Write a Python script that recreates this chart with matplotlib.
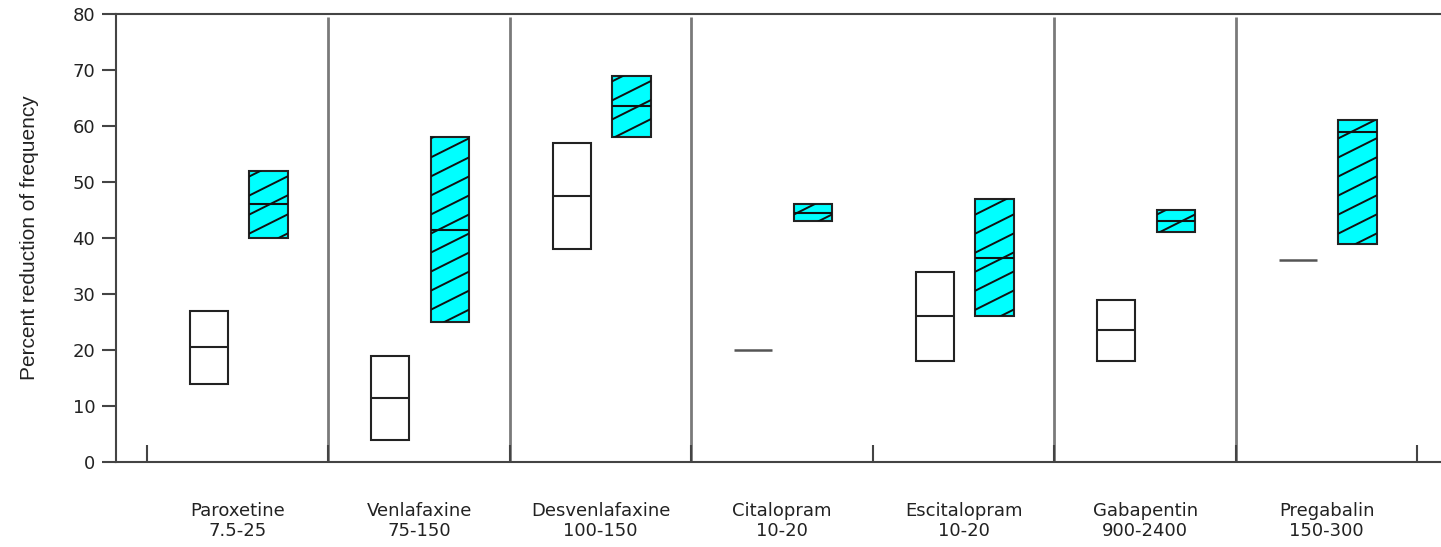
import matplotlib
matplotlib.use("Agg")
import matplotlib.pyplot as plt
import numpy as np

# drug / dose range (mg)
drugs = ["Paroxetine\n7.5-25", "Venlafaxine\n75-150", "Desvenlafaxine\n100-150",
         "Citalopram\n10-20", "Escitalopram\n10-20", "Gabapentin\n900-2400",
         "Pregabalin\n150-300"]

# open boxes (low, median, high)
white_lo = [14, 4, 38, 20, 18, 18, 36]
white_med = [20.5, 11.5, 47.5, 20, 26, 23.5, 36]
white_hi = [27, 19, 57, 20, 34, 29, 36]

# cyan hatched boxes (low, median, high)
cyan_lo = [40, 25, 58, 43, 26, 41, 39]
cyan_med = [46, 41.5, 63.5, 44.5, 36.5, 43, 59]
cyan_hi = [52, 58, 69, 46, 47, 45, 61]

separators = [1, 2, 3, 5, 6]

fig = plt.figure(figsize=(14.41, 5.47), dpi=100)
ax = fig.add_axes([0.0805, 0.1554, 0.9195, 0.819])

n = len(drugs)
idx = np.arange(n)
w = 0.21
xw = idx + 0.34
xc = idx + 0.67

# separators between drugs
ax.vlines(separators, 0, 79.5, color="#7a7a7a", lw=2, zorder=1)

# white boxes
for x, lo, md, hi in zip(xw, white_lo, white_med, white_hi):
    if hi > lo:
        ax.bar(x, hi - lo, bottom=lo, width=w, color="white",
               edgecolor="#222222", lw=1.5, zorder=2)
        ax.hlines(md, x - w / 2, x + w / 2, color="#222222", lw=1.5, zorder=3)
    else:
        ax.hlines(md, x - w / 2, x + w / 2, color="#555555", lw=1.8, zorder=3)

# cyan boxes with shallow diagonal hatch
step = 3.4
for x, lo, md, hi in zip(xc, cyan_lo, cyan_med, cyan_hi):
    bars = ax.bar(x, hi - lo, bottom=lo, width=w, color="#00ffff",
                  edgecolor="#222222", lw=1.5, zorder=2)
    patch = bars[0]
    for c in np.arange(np.floor(lo / step) * step - step, hi + step, step):
        ln, = ax.plot([x - w / 2, x + w / 2], [c, c + step],
                      color="#111111", lw=1.4, zorder=3)
        ln.set_clip_path(patch)
    ax.hlines(md, x - w / 2, x + w / 2, color="#111111", lw=1.5, zorder=4)

ax.set_xlim(-0.17, 7.13)
ax.set_ylim(0, 80)

for side in ["left", "bottom", "top"]:
    ax.spines[side].set_color("#444444")
    ax.spines[side].set_linewidth(1.5)
ax.spines["right"].set_visible(False)

ax.set_yticks(np.arange(0, 81, 10))
ax.tick_params(axis="y", direction="out", length=10, width=1.5,
               color="#444444", labelsize=13, pad=5, labelcolor="#222222")

ax.set_xticks(np.arange(0, n + 1))
ax.set_xticklabels([])
ax.set_xticks(idx + 0.5, minor=True)
ax.set_xticklabels(drugs, minor=True, fontsize=13, linespacing=1.12,
                   color="#222222")
ax.tick_params(axis="x", which="major", direction="in", length=12, width=1.5,
               color="#444444")
ax.tick_params(axis="x", which="minor", length=0, pad=29)

ax.set_ylabel("Percent reduction of frequency", fontsize=15,
              family=["Liberation Sans Narrow", "Liberation Sans"],
              labelpad=24, color="#222222")

fig.savefig("out.png", dpi=100)
